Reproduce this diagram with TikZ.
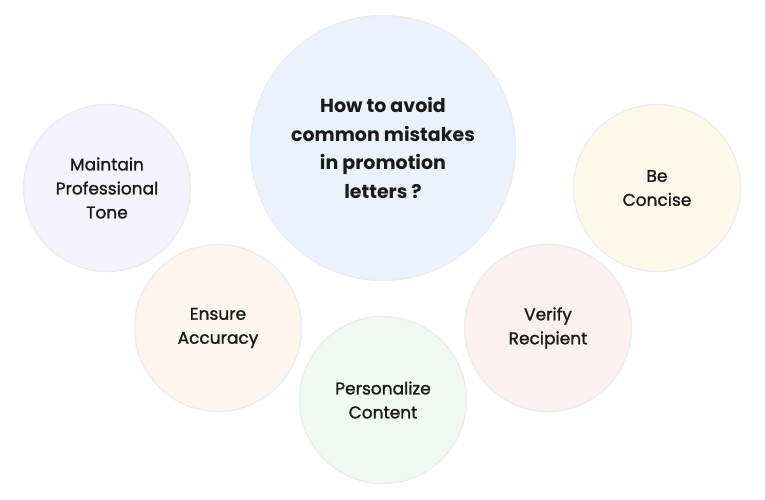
\documentclass[tikz,border=0pt]{standalone}
\usepackage{fontspec}
\setmainfont{Poppins}
\newfontfamily\medfont[FakeBold=1.3]{Poppins}
\usepackage{tikz}
\definecolor{qblue}{HTML}{EAF2FD}
\definecolor{tonelilac}{HTML}{F3F2FD}
\definecolor{accpeach}{HTML}{FEF5EC}
\definecolor{persgreen}{HTML}{F0F9F1}
\definecolor{verpink}{HTML}{FDF0F0}
\definecolor{concream}{HTML}{FDF9EA}
\definecolor{ink}{HTML}{1A1A1A}

\begin{document}
\begin{tikzpicture}[x=1pt, y=-1pt,
    bubble/.style={circle, draw=black!7, line width=1.4pt, minimum size=167pt,
      inner sep=0pt, align=center, text=ink, font=\medfont\fontsize{17}{24}\selectfont}]
    \useasboundingbox (0, 0) rectangle (765, 500);
    \node [bubble, fill=qblue, minimum size=265pt,
      font=\bfseries\fontsize{19}{28.5}\selectfont] (q) at (383, 148)
      {How to avoid\\common mistakes\\in promotion\\letters ?};
    \node [bubble, fill=tonelilac] (tone) at (107, 188) {Maintain\\Professional\\Tone};
    \node [bubble, fill=accpeach] (acc) at (218, 328) {Ensure\\Accuracy};
    \node [bubble, fill=persgreen] (pers) at (383, 400) {Personalize\\Content};
    \node [bubble, fill=verpink] (ver) at (548, 328) {Verify\\Recipient};
    \node [bubble, fill=concream] (con) at (657, 188) {Be\\Concise};
  \end{tikzpicture}
\end{document}
